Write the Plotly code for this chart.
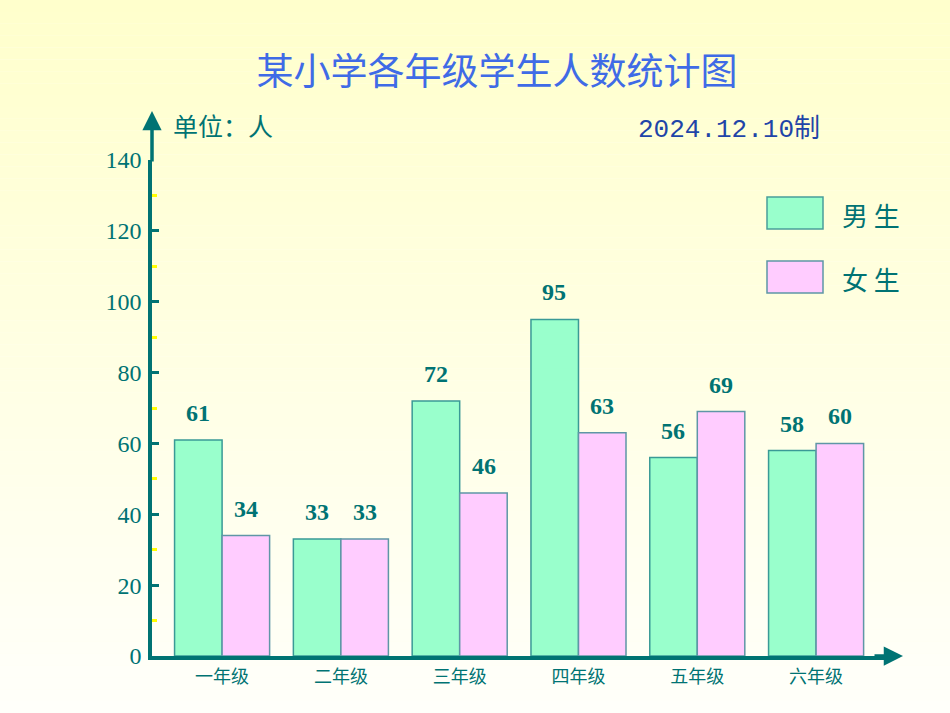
import plotly.graph_objects as go

grades = ["一年级", "二年级", "三年级", "四年级", "五年级", "六年级"]
boys = [61, 33, 72, 95, 56, 58]
girls = [34, 33, 46, 63, 69, 60]
y_ticks = [0, 20, 40, 60, 80, 100, 120, 140]
minor_ticks = [10, 30, 50, 70, 90, 110, 130]

TEAL = "#007373"
GREEN = "#99FFCC"
PINK = "#FFCCFF"

# plot-area pixel geometry
L, R, T, B = 152, 892, 160, 656
W, H = R - L, B - T


def px(x):
    return (x - L) / W


def py(y):
    return (B - y) / H


fig = go.Figure()
fig.add_trace(go.Bar(x=grades, y=boys, name="男生", marker=dict(color=GREEN, line=dict(color="#3A9A96", width=1.5))))
fig.add_trace(go.Bar(x=grades, y=girls, name="女生", marker=dict(color=PINK, line=dict(color="#5F96A6", width=1.5))))

shapes = []
# vertical gradient background
n = 60
for i in range(n):
    t = i / (n - 1)
    b = int(round(204 + (250 - 204) * t))
    shapes.append(dict(type="rect", xref="paper", yref="paper", layer="below",
                       x0=px(0), x1=px(950), y0=py(713 * (i + 1) / n), y1=py(713 * i / n),
                       fillcolor=f"rgb(255,255,{b})", line=dict(width=0)))

# legend boxes
shapes.append(dict(type="rect", xref="paper", yref="paper", x0=px(767), x1=px(823), y0=py(229), y1=py(197),
                   fillcolor=GREEN, line=dict(color="#4A9E9A", width=1.5)))
shapes.append(dict(type="rect", xref="paper", yref="paper", x0=px(767), x1=px(823), y0=py(293), y1=py(261),
                   fillcolor=PINK, line=dict(color="#5F96A6", width=1.5)))

annotations = []
label_font = dict(family="Liberation Serif", size=24, color=TEAL)
for g_, v in zip(grades, boys):
    annotations.append(dict(x=g_, y=v, xref="x", yref="y", text=f"<b>{v}</b>", showarrow=False,
                            xshift=-24, yshift=27, font=label_font))
for g_, v in zip(grades, girls):
    annotations.append(dict(x=g_, y=v, xref="x", yref="y", text=f"<b>{v}</b>", showarrow=False,
                            xshift=24, yshift=27, font=label_font))

# axis arrows
annotations.append(dict(xref="paper", yref="paper", x=0, y=py(111), ax=0, ay=52,
                        showarrow=True, arrowhead=2, arrowsize=1.1, arrowwidth=3.5, arrowcolor=TEAL, text=""))
annotations.append(dict(xref="paper", yref="paper", x=px(903), y=0, ax=-30, ay=0,
                        showarrow=True, arrowhead=2, arrowsize=1.1, arrowwidth=3.5, arrowcolor=TEAL, text=""))

# texts
annotations.append(dict(xref="paper", yref="paper", x=px(171), y=py(125), xanchor="left", yanchor="middle",
                        text="单位：人", showarrow=False,
                        font=dict(family="Noto Sans CJK SC", size=25, color=TEAL)))
annotations.append(dict(xref="paper", yref="paper", x=px(636), y=py(130), xanchor="left", yanchor="middle",
                        text="2024.12.10制", showarrow=False,
                        font=dict(family="Liberation Mono, Noto Sans CJK SC", size=26, color="#1F45A8")))
annotations.append(dict(xref="paper", yref="paper", x=px(840), y=py(214), xanchor="left", yanchor="middle",
                        text="男 生", showarrow=False,
                        font=dict(family="Noto Sans CJK SC", size=26, color=TEAL)))
annotations.append(dict(xref="paper", yref="paper", x=px(840), y=py(278), xanchor="left", yanchor="middle",
                        text="女 生", showarrow=False,
                        font=dict(family="Noto Sans CJK SC", size=26, color=TEAL)))

fig.update_layout(
    width=950, height=713,
    margin=dict(l=L, r=950 - R, t=T, b=713 - B, pad=0),
    paper_bgcolor="#FFFFF0",
    plot_bgcolor="rgba(0,0,0,0)",
    barmode="group", bargap=0.2, bargroupgap=0,
    showlegend=False,
    title=dict(text="某小学各年级学生人数统计图", xref="container", x=497 / 950, xanchor="center",
               yref="container", y=1 - 72 / 713, yanchor="middle",
               font=dict(family="Noto Sans CJK SC", size=37, color="#3F6BE6")),
    shapes=shapes,
    annotations=annotations,
    xaxis=dict(range=[-0.59, -0.59 + W / 118.8], showline=True, linecolor=TEAL, linewidth=3.5,
               showgrid=False, zeroline=False, ticks="", ticklabelstandoff=2,
               tickfont=dict(family="Noto Sans CJK SC", size=18, color=TEAL)),
    yaxis=dict(range=[0, 140], showline=True, linecolor=TEAL, linewidth=3.5, showgrid=False, zeroline=False,
               tickmode="array", tickvals=y_ticks, ticks="inside", ticklen=7, tickwidth=3, tickcolor=TEAL,
               ticklabelstandoff=2,
               tickfont=dict(family="Liberation Serif", size=24, color=TEAL),
               minor=dict(tickmode="array", tickvals=minor_ticks, ticks="inside", ticklen=5, tickwidth=3,
                          tickcolor="#FFFF00")),
)

fig.write_html("out.html")
